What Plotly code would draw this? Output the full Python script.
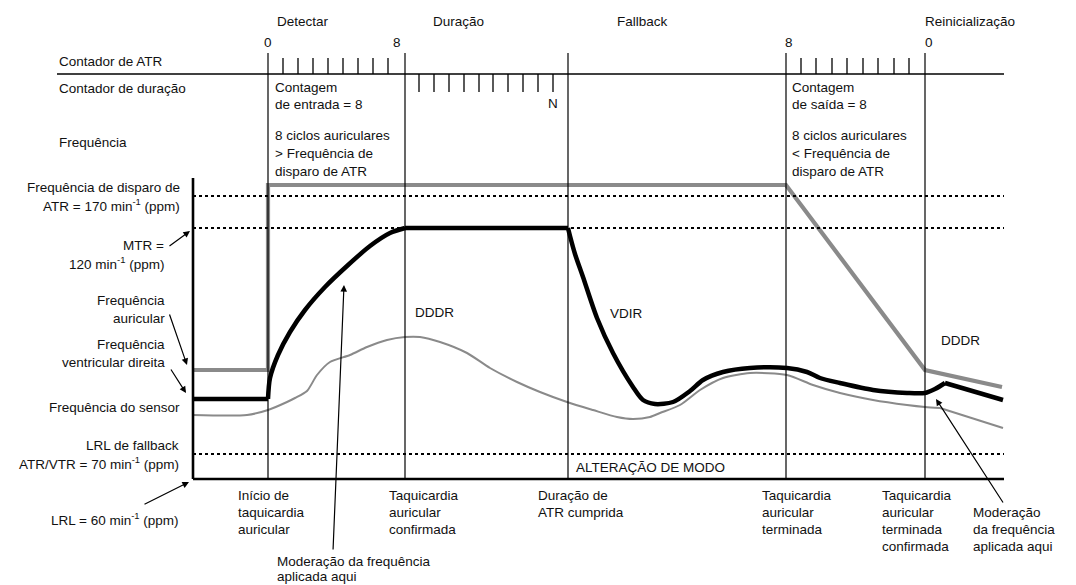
import plotly.graph_objects as go

# ---------------- data (schematic diagram units: time -> x, rate level -> y) ----------------
phase_names = ["Detectar", "Duração", "Fallback", "Reinicialização"]
phase_label_x = [303, 458, 642, 970]

event_t = [268, 405, 568, 786, 925]            # vertical event markers
counter_labels = ["0", "8", "8", "0"]
counter_label_x = [268, 397, 789, 929]

atr_ticks_entry = [283, 298, 313, 328, 343, 358, 373, 388]
duration_ticks = [419, 434, 449, 464, 479, 493, 508, 523, 538, 553]
atr_ticks_exit = [801, 816, 832, 847, 863, 878, 894, 909]

level_atr_trigger = 196   # 170 min-1
level_mtr = 228           # 120 min-1
level_fallback_lrl = 454  # 70 min-1
level_lrl = 479           # 60 min-1

# atrial rate (thick grey)
atrial_t = [193, 268, 268, 786, 925, 1002]
atrial_r = [370, 370, 185, 185, 370, 387]

# ventricular rate (thick black), split in segments
vent_flat1_t = [193, 268]
vent_flat1_r = [399, 399]
vent_rise_t = [268, 270, 278, 290, 305, 325, 347, 370, 390, 405]
vent_rise_r = [399, 378, 355, 332, 310, 287, 266, 246, 233, 228]
vent_flat2_t = [405, 568]
vent_flat2_r = [228, 228]
vent_fall_t = [568, 570, 575, 583, 597, 613, 633, 643, 655, 673, 690, 703, 723, 750, 787, 807, 820, 840, 873, 907, 925, 935, 945]
vent_fall_r = [228, 236, 254, 277, 318, 353, 387, 400, 404, 402, 391, 380, 372, 368, 368, 372, 378, 383, 390, 393, 393, 389, 383]
vent_end_t = [945, 1003]
vent_end_r = [383, 400]

# sensor rate (thin grey)
sensor_t = [193, 247, 268, 287, 295, 307, 317, 330, 350, 367, 387, 405, 420, 440, 467, 490, 517, 540, 567, 593, 617, 633, 650,
            660, 680, 700, 723, 750, 787, 813, 840, 873, 907, 925, 940]
sensor_r = [415, 415, 410, 402, 398, 391, 375, 362, 355, 347, 340, 337, 337, 342, 353, 368, 382, 392, 402, 410, 417, 419, 417,
            413, 405, 390, 378, 373, 375, 385, 393, 400, 405, 407, 408]
sensor_end_t = [940, 1003]
sensor_end_r = [408, 428]

# ---------------- figure ----------------
FONT = "Liberation Sans, Arial, Helvetica, sans-serif"
FS = 13.5
TXT = "#111111"
GREY = "#8a8a8a"

fig = go.Figure()

def line(t, r, color, width, shape="linear", smoothing=1.0):
    fig.add_trace(go.Scatter(x=t, y=r, mode="lines",
                             line=dict(color=color, width=width, shape=shape, smoothing=smoothing),
                             hoverinfo="skip", showlegend=False))

shapes = []

def seg(x0, y0, x1, y1, width=1.2, color="black", dash=None):
    d = dict(type="line", xref="x", yref="y", x0=x0, y0=y0, x1=x1, y1=y1,
             line=dict(color=color, width=width))
    if dash:
        d["line"]["dash"] = dash
    shapes.append(d)

x_left, x_right = 193, 1004
# top counter line
seg(57, 74, x_right, 74, 1.6)
# event verticals
for t in event_t:
    seg(t, 53, t, level_lrl, 1.2)
# ATR counter ticks
for t in atr_ticks_entry + atr_ticks_exit:
    seg(t, 58, t, 74, 1.3)
# duration ticks
for t in duration_ticks:
    seg(t, 74, t, 92, 1.3)
# dotted reference lines
for lv in [level_atr_trigger, level_mtr, level_fallback_lrl]:
    seg(x_left, lv, x_right, lv, 2.2, dash="dot")
# axes
seg(x_left, 178, x_left, level_lrl, 2.6)
seg(x_left, level_lrl, x_right, level_lrl, 2.6)

fig.update_layout(shapes=shapes)

# sensor
line(sensor_t, sensor_r, GREY, 2.0, "spline", 0.7)
line(sensor_end_t, sensor_end_r, GREY, 2.0)
# atrial
line(atrial_t, atrial_r, GREY, 4.2)
# ventricular
line(vent_flat1_t, vent_flat1_r, "black", 4.5)
line(vent_rise_t, vent_rise_r, "black", 4.5, "spline", 0.8)
line(vent_flat2_t, vent_flat2_r, "black", 4.5)
line(vent_fall_t, vent_fall_r, "black", 4.5, "spline", 0.8)
line(vent_end_t, vent_end_r, "black", 4.5)

ann = []

def text(s, x, y, anchor="left", size=FS):
    ann.append(dict(text=s, x=x, y=y, xref="x", yref="y", xanchor=anchor, yanchor="middle",
                    showarrow=False, font=dict(family=FONT, size=size, color=TXT)))

def block(lines, x, y0, dy=17, anchor="left"):
    for i, s in enumerate(lines):
        text(s, x, y0 + i * dy, anchor)

def arrow(x_tip, y_tip, x_tail, y_tail):
    ann.append(dict(text="", x=x_tip, y=y_tip, ax=x_tail, ay=y_tail, xref="x", yref="y",
                    axref="x", ayref="y", showarrow=True, arrowhead=2, arrowsize=1.1,
                    arrowwidth=1.2, arrowcolor="black", standoff=0, startstandoff=0))

for name, x in zip(phase_names, phase_label_x):
    text(name, x, 21, "center")
for lab, x in zip(counter_labels, counter_label_x):
    text(lab, x, 42, "center")

text("Contador de ATR", 57, 61)
text("Contador de duração", 57, 88)
text("Frequência", 57, 142)

block(["Contagem", "de entrada = 8"], 273, 87)
block(["8 ciclos auriculares", "> Frequência de", "disparo de ATR"], 273, 135, 18)
text("N", 553, 103, "center")
block(["Contagem", "de saída = 8"], 790, 87)
block(["8 ciclos auriculares", "< Frequência de", "disparo de ATR"], 790, 135, 18)

block(["Frequência de disparo de", "ATR = 170 min<sup>-1</sup> (ppm)"], 182, 187, 18, "right")
block(["MTR =", "120 min<sup>-1</sup> (ppm)"], 166, 245, 18, "right")
block(["Frequência", "auricular"], 167, 300, 18, "right")
block(["Frequência", "ventricular direita"], 167, 344, 18, "right")
text("Frequência do sensor", 182, 407, "right")
block(["LRL de fallback", "ATR/VTR = 70 min<sup>-1</sup> (ppm)"], 181, 445, 18, "right")
text("LRL = 60 min<sup>-1</sup> (ppm)", 181, 519, "right")

text("DDDR", 413, 312)
text("VDIR", 608, 313)
text("DDDR", 939, 340)
text("ALTERAÇÃO DE MODO", 574, 467)

block(["Início de", "taquicardia", "auricular"], 236, 495)
block(["Taquicardia", "auricular", "confirmada"], 387, 495)
block(["Duração de", "ATR cumprida"], 536, 495)
block(["Taquicardia", "auricular", "terminada"], 760, 495)
block(["Taquicardia", "auricular", "terminada", "confirmada"], 880, 495)
block(["Moderação", "da frequência", "aplicada aqui"], 971, 512)
block(["Moderação da frequência", "aplicada aqui"], 275, 561, 15)

arrow(190, 231, 168, 247)
arrow(187, 365, 169, 313)
arrow(186, 393, 170, 368)
arrow(189, 482, 143, 505)
arrow(344, 285, 333, 551)
arrow(936, 399, 1004, 504)

fig.update_layout(
    annotations=ann,
    width=1076, height=585,
    margin=dict(l=0, r=0, t=0, b=0),
    paper_bgcolor="white", plot_bgcolor="white",
    xaxis=dict(range=[0, 1076], visible=False, fixedrange=True),
    yaxis=dict(range=[585, 0], visible=False, fixedrange=True),
    showlegend=False,
)

fig.write_html("out.html", config={"displayModeBar": False},
               post_script="document.body.style.margin='0px';document.body.style.overflow='hidden';")
